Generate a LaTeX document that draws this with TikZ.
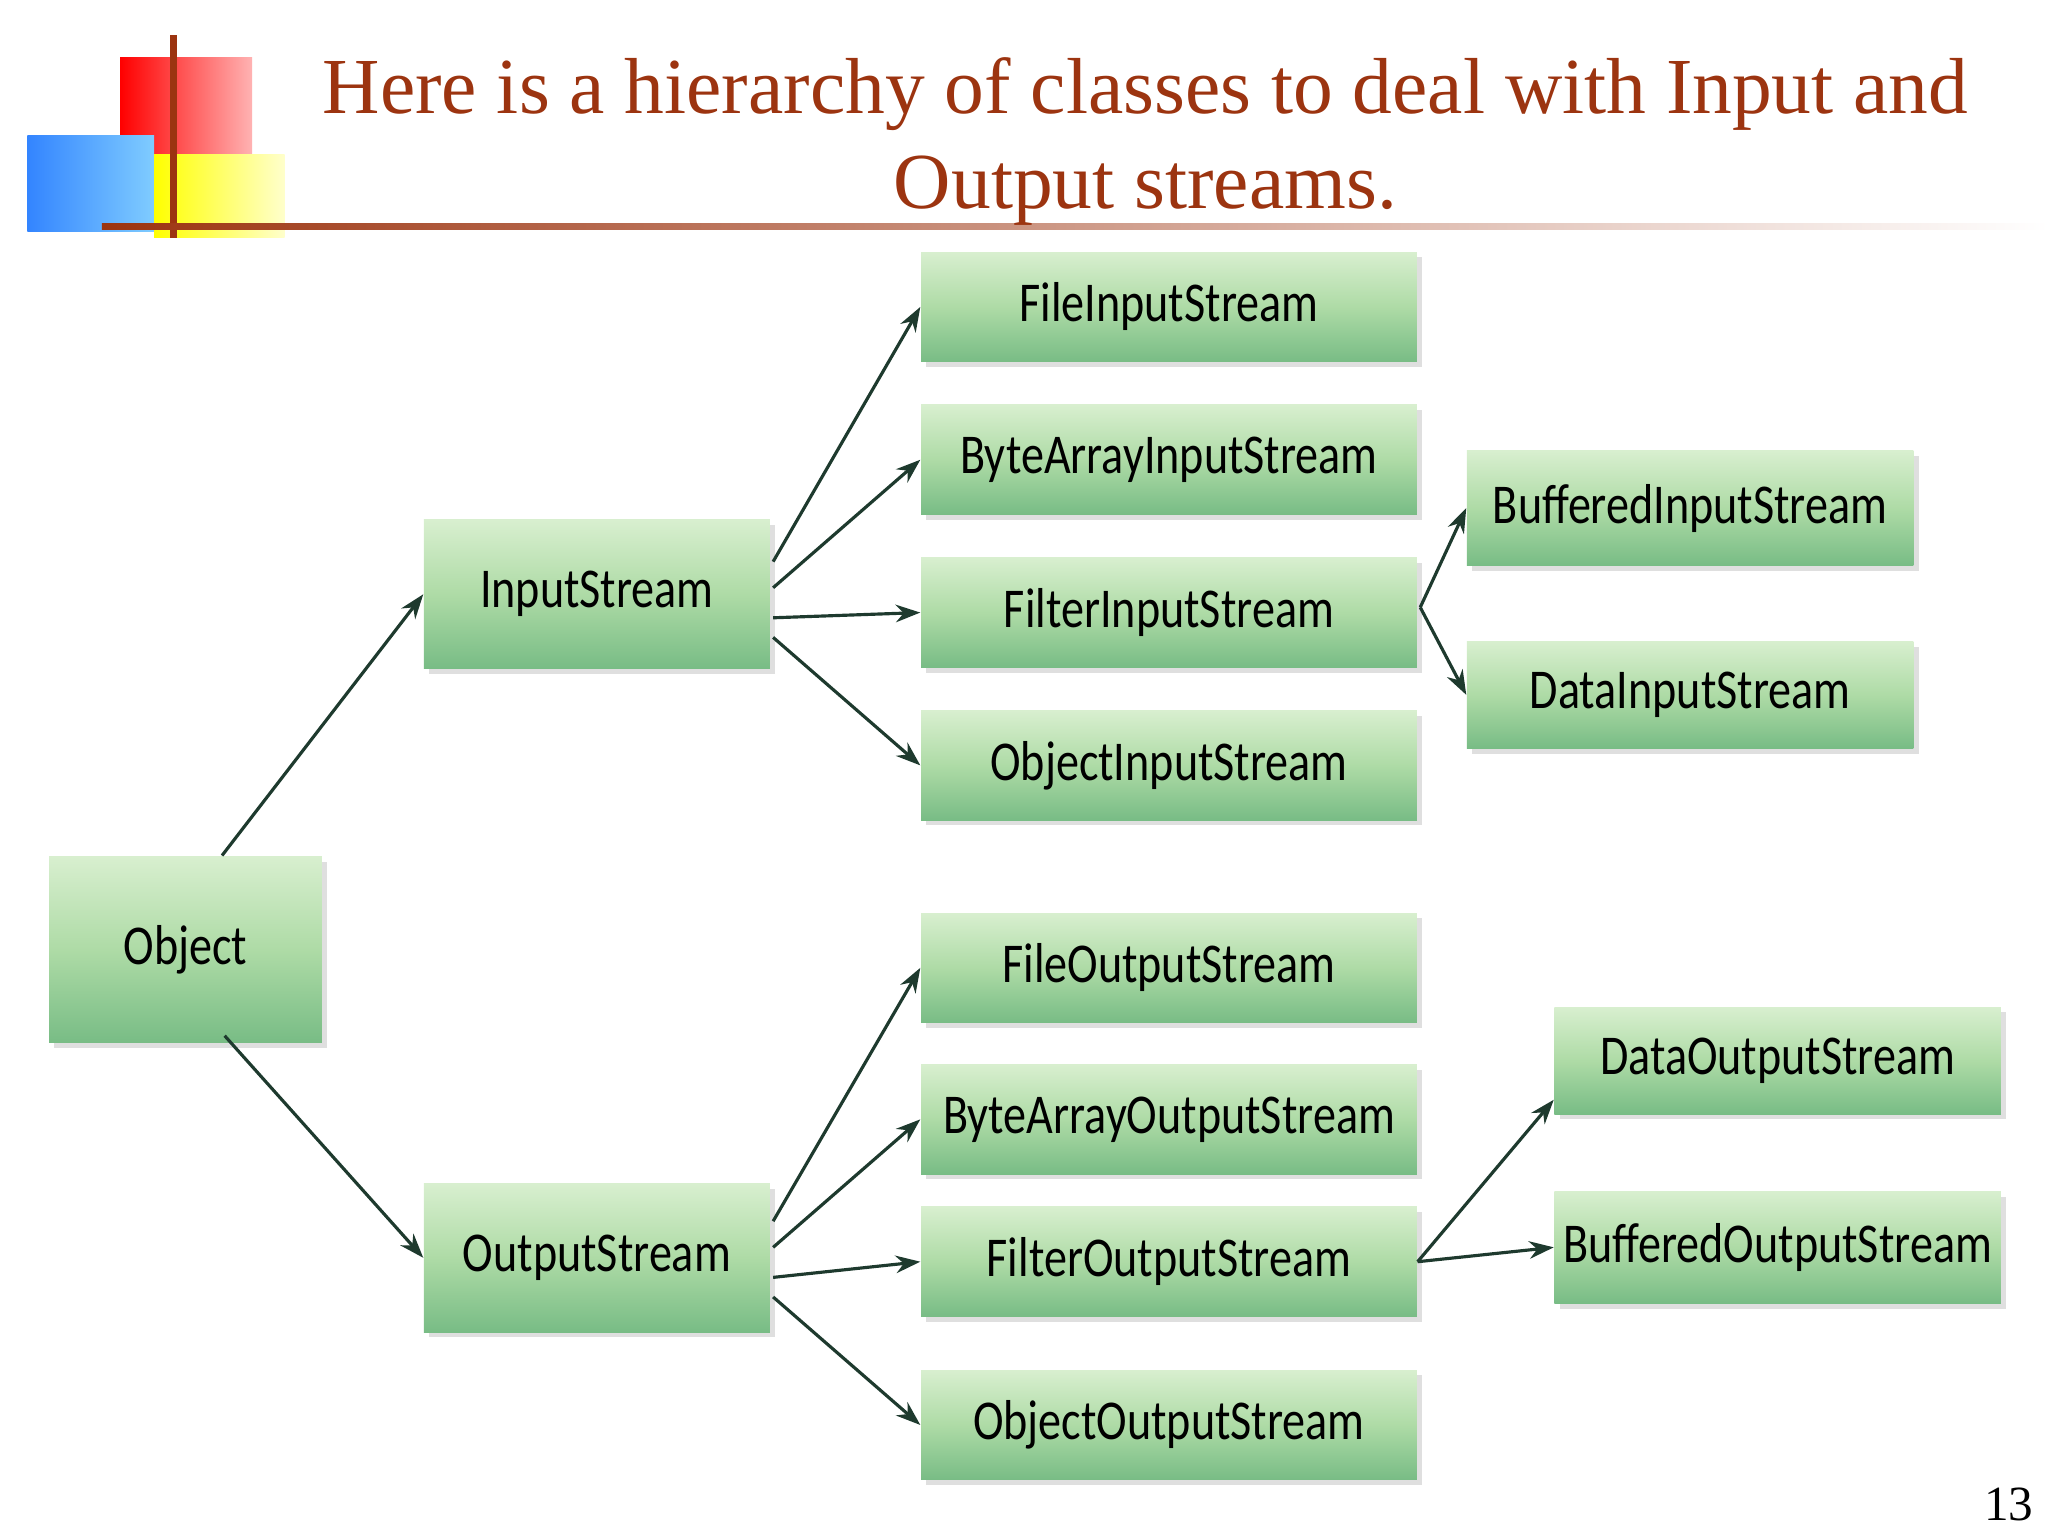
\documentclass[tikz,border=0pt]{standalone}
\usepackage{fontspec}
\setmainfont{Liberation Serif}
\newfontfamily\boxfont[FakeStretch=0.82]{Carlito}
\usetikzlibrary{arrows.meta,positioning,calc,shadows}
\definecolor{titlered}{HTML}{9C3410}
\definecolor{linkdark}{HTML}{1E3A2E}
\definecolor{boxtop}{HTML}{D8EFCF}
\definecolor{boxmid}{HTML}{AEDBA6}
\definecolor{boxbot}{HTML}{78BC85}
\tikzset{
  cls/.style={rectangle, shading=axis, top color=boxtop, bottom color=boxbot,
    middle color=boxmid, draw=none, inner xsep=0pt, minimum height={84*0.3713pt}, minimum width={380*0.3713pt},
    font=\boxfont\fontsize{16}{18}\selectfont, drop shadow={opacity=0.25, shadow xshift=1.5pt, shadow yshift=-1.5pt}},
  link/.style={-{Stealth[length=7pt,width=5pt]}, linkdark, line width=0.9pt}
}
\begin{document}
\begin{tikzpicture}[x=0.01306cm, y=-0.01306cm]
  \useasboundingbox (0,0) rectangle (1568,1176);
  % logo
  \shade[left color=red, right color=red!30!white] (92,44) rectangle (193,118);
  \shade[left color=blue!60!cyan!80!white, right color=blue!40!cyan!50!white] (21,104) rectangle (118,177);
  \shade[left color=yellow, right color=yellow!20!white] (118,118) rectangle (218,182);
  \draw[titlered, line width=2pt] (133,27) -- (133,182);
  \shade[left color=titlered, right color=white] (78,171) rectangle (1568,176);
  % title
  \node (title) [titlered, align=center, font=\fontsize{22.6}{27}\selectfont] at (877,108)
    {Here is a hierarchy of classes to deal with Input and\\Output streams.};
  % classes
  \node (obj) [cls, minimum width={209*0.3713pt}, minimum height={143*0.3713pt}] at (142,727) {Object};
  \node (in)  [cls, minimum width={265*0.3713pt}, minimum height={114*0.3713pt}] at (457,455) {InputStream};
  \node (out) [cls, minimum width={265*0.3713pt}, minimum height={114*0.3713pt}] at (457,963) {OutputStream};
  \node (fin)  [cls] at (895,235) {FileInputStream};
  \node (bain) [cls] at (895,352) {ByteArrayInputStream};
  \node (filin)[cls] at (895,469) {FilterInputStream};
  \node (oin)  [cls] at (895,586) {ObjectInputStream};
  \node (bufin)[cls, minimum width={342*0.3713pt}, minimum height={88*0.3713pt}] at (1294,389) {BufferedInputStream};
  \node (din)  [cls, minimum width={342*0.3713pt}, minimum height={82*0.3713pt}] at (1294,532) {DataInputStream};
  \node (fout)  [cls] at (895,741) {FileOutputStream};
  \node (baout) [cls] at (895,857) {ByteArrayOutputStream};
  \node (filout)[cls] at (895,966) {FilterOutputStream};
  \node (oout)  [cls] at (895,1091) {ObjectOutputStream};
  \node (dout)  [cls, minimum width={342*0.3713pt}, minimum height={82*0.3713pt}] at (1361,812) {DataOutputStream};
  \node (bufout)[cls, minimum width={342*0.3713pt}, minimum height={86*0.3713pt}] at (1361,955) {BufferedOutputStream};
  \node (pg) [font=\fontsize{14}{14}\selectfont] at (1538,1152) {13};
  % connectors
  \draw[link] ($(obj.north)+(28,0)$) -- (in.west);
  \draw[link] ($(obj.south)+(30,-6)$) -- (out.west);
  \draw[link] ($(in.east)+(2,-25)$) -- (fin.west);
  \draw[link] ($(in.east)+(2,-5)$) -- (bain.west);
  \draw[link] ($(in.east)+(2,18)$) -- (filin.west);
  \draw[link] ($(in.east)+(2,33)$) -- (oin.west);
  \draw[link] ($(out.east)+(2,-28)$) -- (fout.west);
  \draw[link] ($(out.east)+(2,-8)$) -- (baout.west);
  \draw[link] ($(out.east)+(2,15)$) -- (filout.west);
  \draw[link] ($(out.east)+(2,30)$) -- (oout.west);
  \draw[link] ($(filin.east)+(2,-4)$) -- (bufin.west);
  \draw[link] ($(filin.east)+(2,-4)$) -- (din.west);
  \draw[link] (filout.east) -- ($(dout.west)+(0,30)$);
  \draw[link] (filout.east) -- (bufout.west);
\end{tikzpicture}
\end{document}
